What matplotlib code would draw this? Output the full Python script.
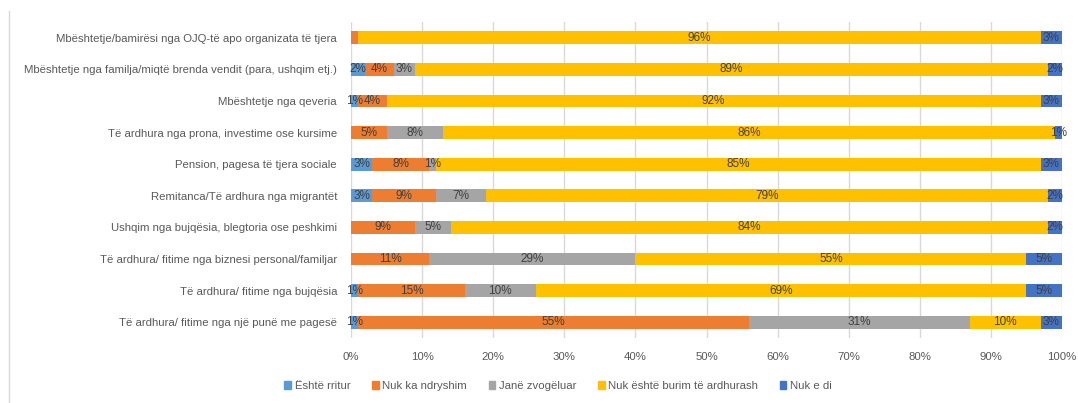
import matplotlib.pyplot as plt
import matplotlib.patches as mpatches
import numpy as np

# kategorite (nga poshte lart)
categories = [
    "Të ardhura/ fitime nga një punë me pagesë",
    "Të ardhura/ fitime nga bujqësia",
    "Të ardhura/ fitime nga biznesi personal/familjar",
    "Ushqim nga bujqësia, blegtoria ose peshkimi",
    "Remitanca/Të ardhura nga migrantët",
    "Pension, pagesa të tjera sociale",
    "Të ardhura nga prona, investime ose kursime",
    "Mbështetje nga qeveria",
    "Mbështetje nga familja/miqtë brenda vendit (para, ushqim etj.)",
    "Mbështetje/bamirësi nga OJQ-të apo organizata të tjera",
]
series_names = ["Është rritur", "Nuk ka ndryshim", "Janë zvogëluar",
                "Nuk është burim të ardhurash", "Nuk e di"]

rritur = [1, 1, 0, 0, 3, 3, 0, 1, 2, 0]
pa_ndryshim = [55, 15, 11, 9, 9, 8, 5, 4, 4, 1]
zvogeluar = [31, 10, 29, 5, 7, 1, 8, 0, 3, 0]
nuk_burim = [10, 69, 55, 84, 79, 85, 86, 92, 89, 96]
nuk_e_di = [3, 5, 5, 2, 2, 3, 1, 3, 2, 3]

# etiketa te fshehura (segmenti i vogel portokalli lart nuk ka etikete)
hidden = {(1, 9)}

colors = ["#5B9BD5", "#ED7D31", "#A5A5A5", "#FFC000", "#4472C4"]

plt.rcParams["font.family"] = ["Liberation Sans", "DejaVu Sans"]

fig = plt.figure(figsize=(10.78, 4.03), dpi=100)
ax = fig.add_axes([351 / 1078, 65 / 403, 711 / 1078, 316 / 403])

data = [rritur, pa_ndryshim, zvogeluar, nuk_burim, nuk_e_di]
y = np.arange(len(categories))
left = np.zeros(len(categories))
for i, vals in enumerate(data):
    vals = np.array(vals, dtype=float)
    ax.barh(y, vals, 0.4, left=left, color=colors[i], zorder=3)
    for j, v in enumerate(vals):
        if v > 0 and (i, j) not in hidden:
            ax.text(left[j] + v / 2, j, "%d%%" % v, ha="center", va="center",
                    fontsize=8.5, color="#404040", zorder=4)
    left += vals

ax.set_xlim(0, 100)
ax.set_ylim(-0.5, len(categories) - 0.5)
ax.set_xticks(np.arange(0, 101, 10))
ax.set_xticklabels(["%d%%" % t for t in range(0, 101, 10)])
ax.set_yticks(y)
ax.set_yticklabels(categories)
ax.tick_params(axis="both", length=0, labelsize=8.2, colors="#595959")
ax.tick_params(axis="y", pad=10)
ax.tick_params(axis="x", pad=10)
ax.grid(axis="x", color="#D9D9D9", linewidth=1, zorder=0)
for s in ax.spines.values():
    s.set_visible(False)

handles = [mpatches.Patch(color=c, label=n) for c, n in zip(colors, series_names)]
fig.legend(handles=handles, loc="center", bbox_to_anchor=(558 / 1078, 1 - 386 / 403),
           ncol=5, frameon=False, fontsize=8.2, handlelength=0.6, handleheight=0.6,
           handletextpad=0.3, columnspacing=1.9, labelcolor="#595959")

# vija e kufirit majtas
fig.add_artist(plt.Line2D([8.5 / 1078, 8.5 / 1078], [0, 1 - 11 / 403],
                          color="#D9D9D9", linewidth=1))

fig.savefig("out.png", dpi=100)
